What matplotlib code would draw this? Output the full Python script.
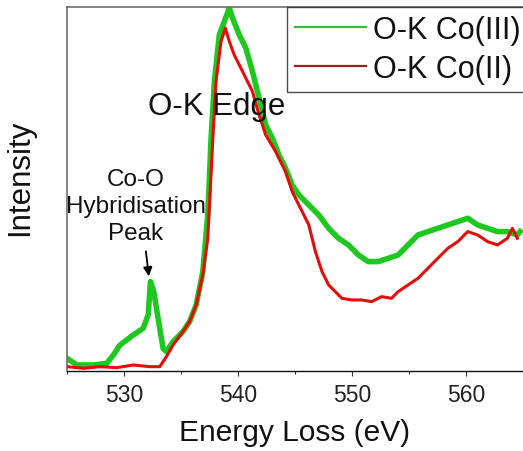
import matplotlib
matplotlib.use("Agg")
import matplotlib.pyplot as plt
from matplotlib.lines import Line2D

plt.rcParams['font.family'] = ['Liberation Sans', 'DejaVu Sans']

# Energy loss (eV) and intensity (arb. units)
energy_co3 = [525.00, 525.88, 527.33, 528.49, 529.07, 529.65, 530.81, 531.68, 532.12, 532.32,
              532.61, 532.99, 533.43, 533.72, 534.30, 535.17, 535.75, 536.33, 536.91, 537.35,
              537.64, 537.93, 538.36, 538.80, 539.24, 539.53, 540.11, 540.69, 541.27, 541.85,
              542.43, 543.01, 543.59, 544.17, 544.75, 545.34, 546.21, 547.08, 547.95, 548.82,
              549.69, 550.56, 551.43, 552.31, 553.18, 554.05, 554.92, 555.79, 556.66, 557.53,
              558.41, 559.28, 560.15, 561.02, 561.89, 562.76, 563.63, 564.50, 564.74]
intensity_co3 = [0.038, 0.018, 0.018, 0.023, 0.048, 0.078, 0.108, 0.128, 0.168, 0.268,
                 0.238, 0.158, 0.068, 0.058, 0.088, 0.118, 0.148, 0.198, 0.298, 0.468,
                 0.698, 0.868, 1.008, 1.048, 1.088, 1.058, 1.008, 0.968, 0.898, 0.818,
                 0.738, 0.698, 0.648, 0.608, 0.558, 0.528, 0.498, 0.468, 0.428, 0.398,
                 0.378, 0.348, 0.328, 0.328, 0.338, 0.348, 0.378, 0.408, 0.418, 0.428,
                 0.438, 0.448, 0.458, 0.438, 0.428, 0.418, 0.418, 0.408, 0.418]

energy_co2 = [525.00, 526.46, 527.91, 529.36, 530.81, 532.27, 533.14, 533.72, 534.30, 535.17,
              535.75, 536.33, 536.91, 537.35, 537.78, 538.07, 538.51, 538.89, 539.24, 539.67,
              540.11, 540.69, 541.27, 541.85, 542.43, 543.30, 544.17, 544.75, 545.63, 546.21,
              546.79, 547.37, 547.95, 548.53, 549.11, 549.98, 550.85, 551.73, 552.60, 553.47,
              554.05, 554.92, 555.79, 556.66, 557.53, 558.41, 559.28, 560.15, 561.02, 561.89,
              562.76, 563.63, 564.07, 564.50]
intensity_co2 = [0.013, 0.008, 0.013, 0.010, 0.018, 0.013, 0.013, 0.043, 0.078, 0.118,
                 0.148, 0.198, 0.288, 0.398, 0.688, 0.868, 0.988, 1.028, 0.988, 0.948,
                 0.918, 0.878, 0.838, 0.768, 0.708, 0.658, 0.598, 0.538, 0.478, 0.438,
                 0.358, 0.298, 0.258, 0.238, 0.218, 0.213, 0.213, 0.208, 0.223, 0.218,
                 0.238, 0.258, 0.278, 0.308, 0.338, 0.368, 0.388, 0.418, 0.408, 0.388,
                 0.378, 0.398, 0.428, 0.398]

series_labels = ['O-K Co(III)', 'O-K Co(II)']
major_ticks = [530, 540, 550, 560]
minor_ticks = [525, 535, 545, 555, 565]

fig = plt.figure(figsize=(5.23, 4.52), dpi=100)
ax = fig.add_axes([67 / 523, 80 / 452, 1 - 67 / 523, (372 - 7.5) / 452])

ax.plot(energy_co3, intensity_co3, color='#1ec81e', lw=4.0, solid_joinstyle='round', zorder=2)
ax.plot(energy_co2, intensity_co2, color='#e60c0c', lw=2.2, solid_joinstyle='round', zorder=3)

ax.set_xlim(525, 565)
ax.set_ylim(0, 1.093)
ax.set_xticks(major_ticks)
ax.set_xticks(minor_ticks, minor=True)
ax.set_yticks([])
ax.tick_params(axis='x', which='major', direction='out', length=3.5, width=0.8,
               labelsize=16.5, pad=5, color='#333333', labelcolor='#222222')
ax.tick_params(axis='x', which='minor', direction='out', length=2.5, width=0.8, color='#333333')

for side in ['left', 'top']:
    ax.spines[side].set_color('#6e6e6e')
    ax.spines[side].set_linewidth(1.2)
ax.spines['bottom'].set_color('#111111')
ax.spines['bottom'].set_linewidth(1.0)
ax.spines['right'].set_visible(False)

ax.set_xlabel('Energy Loss (eV)', fontsize=21.5, color='#111111')
ax.xaxis.set_label_coords(0.5, -0.128)
ax.set_ylabel('Intensity', fontsize=22.5, color='#111111')
ax.yaxis.set_label_coords(-0.070, 0.532)

ax.text(538.1, 0.794, 'O-K Edge', fontsize=22.5, ha='center', va='center', color='#111111', zorder=4)
ax.text(531.05, 0.494, 'Co-O\nHybridisation\nPeak', fontsize=17.5, ha='center', va='center',
        multialignment='center', linespacing=1.3, color='#111111', zorder=4)
ax.annotate('', xy=(532.18, 0.284), xytext=(531.92, 0.359),
            arrowprops=dict(arrowstyle='-|>', color='black', lw=1.3, mutation_scale=13,
                            shrinkA=0, shrinkB=0), zorder=5)

handles = [Line2D([], [], color='#3cb83c', lw=1.6), Line2D([], [], color='#a01c1c', lw=1.6)]
leg = ax.legend(handles, series_labels, loc='upper left', bbox_to_anchor=(0.482, 1.0),
                fontsize=22, frameon=True, fancybox=False, edgecolor='#222222',
                handlelength=2.3, handletextpad=0.23, borderpad=0.28, labelspacing=0.28,
                borderaxespad=0.0)
leg.get_frame().set_linewidth(1.0)
for t in leg.get_texts():
    t.set_color('#111111')

fig.savefig('out.png', dpi=100)
